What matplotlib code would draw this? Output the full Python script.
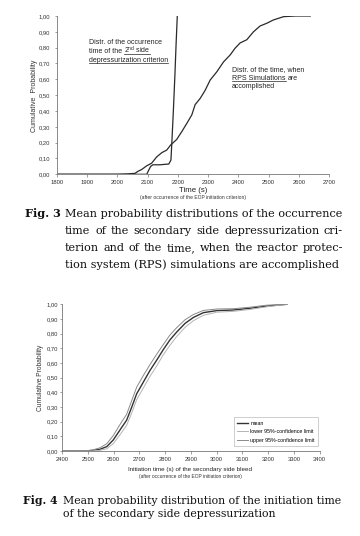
import matplotlib
matplotlib.use('Agg')
import matplotlib.pyplot as plt
from matplotlib.lines import Line2D
from matplotlib.ticker import FuncFormatter, MultipleLocator

W, H = 360, 536

# Fig. 3 - occurrence time of the 2nd side depressurization criterion
crit_t = [1800, 2097, 2103, 2110, 2117, 2140, 2170, 2177, 2180, 2185, 2190, 2194, 2198]
crit_p = [0, 0, 0.025, 0.05, 0.06, 0.06, 0.065, 0.09, 0.2, 0.4, 0.62, 0.82, 1.0]

# Fig. 3 - time when RPS simulations are accomplished
rps_t = [1800, 2000, 2030, 2058, 2069, 2080, 2097, 2113, 2130, 2147, 2163, 2176, 2196,
         2213, 2229, 2246, 2257, 2274, 2290, 2307, 2329, 2351, 2373, 2389, 2406, 2428,
         2450, 2472, 2494, 2516, 2550, 2590, 2638]
rps_p = [0, 0, 0.002, 0.006, 0.02, 0.03, 0.054, 0.07, 0.11, 0.137, 0.153, 0.185, 0.22,
         0.27, 0.32, 0.375, 0.44, 0.48, 0.53, 0.596, 0.648, 0.71, 0.754, 0.796, 0.83, 0.85,
         0.90, 0.937, 0.954, 0.975, 0.996, 1.0, 1.0]

# Fig. 4 - initiation time of the secondary side bleed
bleed_t = [2400, 2490, 2520, 2548, 2574, 2599, 2625, 2651, 2671, 2690, 2716, 2742, 2768,
           2793, 2819, 2845, 2878, 2910, 2949, 3001, 3065, 3130, 3195, 3273]
mean_p = [0, 0, 0.004, 0.012, 0.03, 0.075, 0.143, 0.21, 0.30, 0.39, 0.47, 0.55, 0.62,
          0.69, 0.757, 0.81, 0.87, 0.91, 0.943, 0.957, 0.961, 0.973, 0.988, 1.0]
lower_p = [0, 0, 0.001, 0.005, 0.015, 0.05, 0.11, 0.175, 0.26, 0.35, 0.43, 0.51, 0.58,
           0.655, 0.72, 0.78, 0.843, 0.888, 0.925, 0.946, 0.952, 0.965, 0.983, 1.0]
upper_p = [0, 0, 0.008, 0.022, 0.05, 0.105, 0.18, 0.25, 0.345, 0.435, 0.515, 0.59, 0.66,
           0.725, 0.79, 0.84, 0.895, 0.93, 0.958, 0.968, 0.97, 0.98, 0.994, 1.0]

plt.rcParams['font.family'] = 'Liberation Sans'
plt.rcParams['mathtext.fontset'] = 'custom'
plt.rcParams['mathtext.rm'] = 'Liberation Sans'
plt.rcParams['mathtext.it'] = 'Liberation Sans:italic'

fig = plt.figure(figsize=(W / 100, H / 100), dpi=100)
rend = fig.canvas.get_renderer()


def px(x, y):
	return x / W, 1 - y / H


def add_axes(left, top, right, bottom):
	return fig.add_axes([left / W, 1 - bottom / H, (right - left) / W, (bottom - top) / H])


comma = FuncFormatter(lambda v, pos: '{:.2f}'.format(v).replace('.', ','))


def style(ax, xlo, xhi, ypad):
	ax.set_xlim(xlo, xhi)
	ax.set_ylim(0, 1)
	ax.xaxis.set_major_locator(MultipleLocator(100))
	ax.yaxis.set_major_locator(MultipleLocator(0.1))
	ax.yaxis.set_major_formatter(comma)
	for s in ['top', 'right']:
		ax.spines[s].set_visible(False)
	for s in ['left', 'bottom']:
		ax.spines[s].set_color('#777777')
		ax.spines[s].set_linewidth(0.6)
	ax.tick_params(axis='both', labelsize=4.2, length=1.8, width=0.5, color='#777777', labelcolor='#333333')
	ax.tick_params(axis='x', pad=2.6)
	ax.tick_params(axis='y', pad=ypad)


def width_of(t):
	return t.get_window_extent(rend).width


def ann_line(x, y, plain, under='', after='', **kw):
	# one annotation line, the middle part underlined
	pos = x
	probe = fig.text(0, 0, 'a a', **kw)
	probe2 = fig.text(0, 0, 'aa', **kw)
	sp = width_of(probe) - width_of(probe2)
	probe.remove()
	probe2.remove()
	if plain:
		t = fig.text(*px(pos, y), plain, va='baseline', **kw)
		pos += width_of(t) + sp
	if under:
		t = fig.text(*px(pos, y), under, va='baseline', **kw)
		w = width_of(t)
		fig.add_artist(Line2D([pos / W, (pos + w) / W], [1 - (y + 1.3) / H] * 2,
		                      transform=fig.transFigure, color=kw.get('color', 'k'), lw=0.5))
		pos += w + sp
	if after:
		fig.text(*px(pos, y), after, va='baseline', **kw)


# ---- Fig. 3 chart
ax1 = add_axes(57, 16, 329, 174.3)
ax1.plot(crit_t, crit_p, color='#2a2a2a', lw=0.9)
ax1.plot(rps_t, rps_p, color='#2a2a2a', lw=0.9)
style(ax1, 1800, 2700, 3.0)

fig.text(*px(34, 96), 'Cumulative  Probability', rotation=90, ha='center', va='center', fontsize=5, color='#333333')
fig.text(*px(193, 190), 'Time (s)', ha='center', va='center', fontsize=5.6, color='#222222')
fig.text(*px(193, 197.5), '(after occurrence of the EOP initiation criterion)', ha='center', va='center', fontsize=3.6, color='#333333')

ann = dict(fontsize=5.0, color='#222222')
ann_line(89, 43.5, 'Distr. of the occurrence', **ann)
ann_line(89, 53, 'time of the', r'2$^{\mathrm{nd}}$ side', **ann)
ann_line(89, 62, '', 'depressurization criterion', **ann)
ann_line(232, 71, 'Distr. of the time, when', **ann)
ann_line(232, 79.5, '', 'RPS Simulations', 'are', **ann)
ann_line(232, 88, 'accomplished', **ann)

# ---- Fig. 4 chart
ax2 = add_axes(62, 304.3, 319.5, 451)
ax2.plot(bleed_t, mean_p, color='#333333', lw=1.0, label='mean')
ax2.plot(bleed_t, lower_p, color='#b4b4b4', lw=0.7, label='lower 95%-confidence limit')
ax2.plot(bleed_t, upper_p, color='#8a8a8a', lw=0.7, label='upper 95%-confidence limit')
style(ax2, 2400, 3400, 1.2)
leg = ax2.legend(loc='lower right', fontsize=3.8, frameon=True, fancybox=False, handlelength=2.2,
                 handletextpad=0.4, borderpad=0.6, labelspacing=0.7, bbox_to_anchor=(1.005, 0.015))
leg.get_frame().set_edgecolor('#aaaaaa')
leg.get_frame().set_linewidth(0.5)

fig.text(*px(40, 378), 'Cumulative Probability', rotation=90, ha='center', va='center', fontsize=4.8, color='#333333')
fig.text(*px(190.5, 469.5), 'Initiation time (s) of the secondary side bleed', ha='center', va='center', fontsize=4.5, color='#222222')
fig.text(*px(190.5, 476.5), '(after occurrence of the EOP initiation criterion)', ha='center', va='center', fontsize=3.5, color='#333333')


# ---- captions (justified like the journal page)
def fit_size(text, width, family):
	t = fig.text(0, 0, text, fontsize=10, family=family)
	w = width_of(t)
	t.remove()
	return 10 * width / w


def justify(words, x0, x1, y, **kw):
	texts = [fig.text(0, 1 - y / H, w, va='baseline', **kw) for w in words]
	widths = [width_of(t) for t in texts]
	gap = ((x1 - x0) - sum(widths)) / (len(words) - 1)
	pos = x0
	for t, w in zip(texts, widths):
		t.set_x(pos / W)
		pos += w + gap


serif = 'DejaVu Serif'
cap3 = dict(family=serif, color='#111111', fontsize=fit_size('Mean probability distributions of the occurrence', 278, serif))
fig.text(25 / W, 1 - 217 / H, 'Fig. 3', va='baseline', fontweight='bold', **cap3)
fig.text(65 / W, 1 - 217 / H, 'Mean probability distributions of the occurrence', va='baseline', **cap3)
justify('time of the secondary side depressurization cri-'.split(), 65, 343, 234, **cap3)
justify('terion and of the time, when the reactor protec-'.split(), 65, 343, 251, **cap3)
fig.text(65 / W, 1 - 268 / H, 'tion system (RPS) simulations are accomplished', va='baseline', **cap3)

cap4 = dict(family=serif, color='#111111', fontsize=fit_size('Mean probability distribution of the initiation time', 280, serif))
fig.text(23 / W, 1 - 503.5 / H, 'Fig. 4', va='baseline', fontweight='bold', **cap4)
fig.text(63 / W, 1 - 503.5 / H, 'Mean probability distribution of the initiation time', va='baseline', **cap4)
fig.text(63 / W, 1 - 517 / H, 'of the secondary side depressurization', va='baseline', **cap4)

plt.savefig('out.png', dpi=100)
